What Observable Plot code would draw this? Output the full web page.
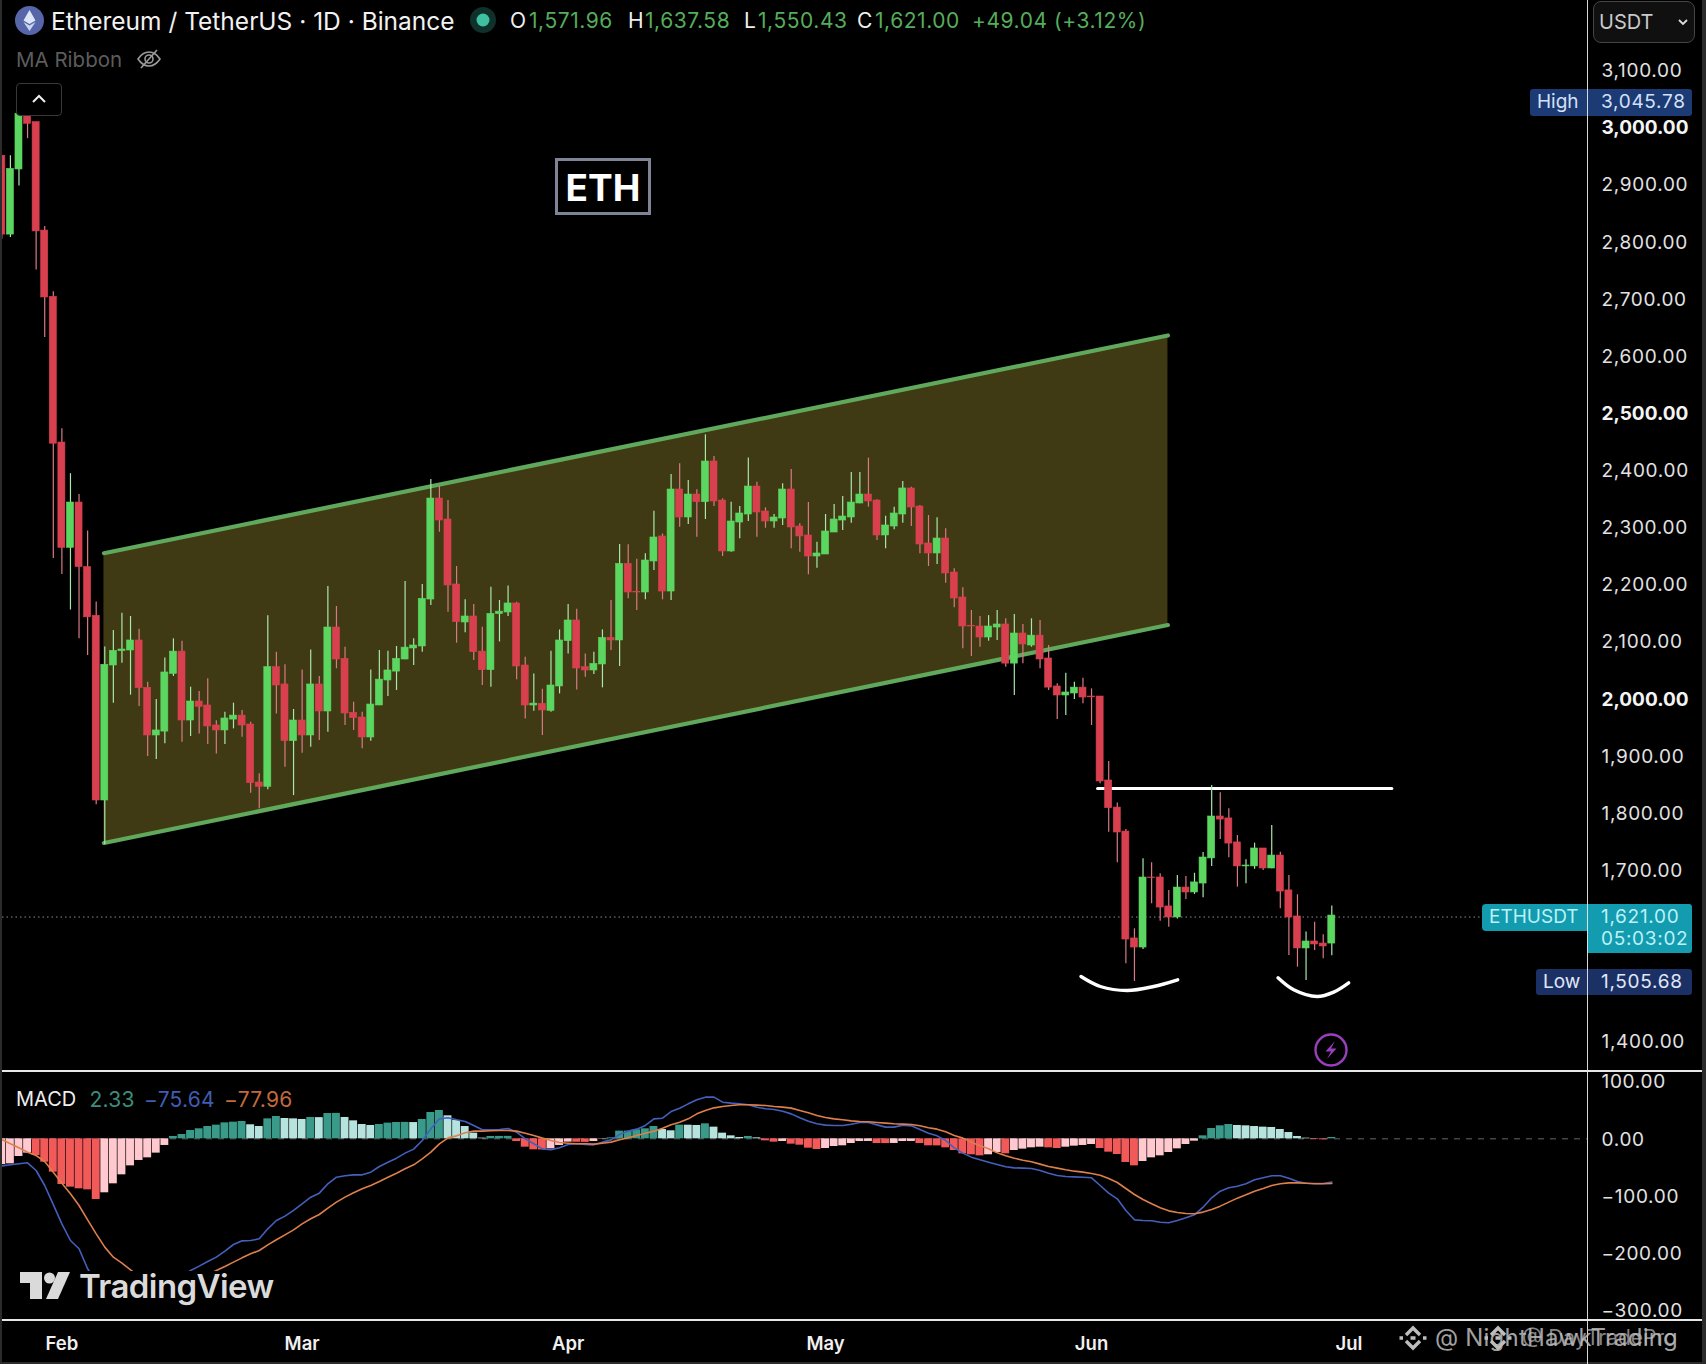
<!DOCTYPE html>
<html><head><meta charset="utf-8">
<script src="https://cdn.jsdelivr.net/npm/d3@7"></script>
<script src="https://cdn.jsdelivr.net/npm/@observablehq/plot@0.6"></script>
<style>
html,body{margin:0;padding:0;background:#2b2b2b;}
#page{position:relative;width:1706px;height:1364px;overflow:hidden;font-family:Inter,sans-serif;background:#000;}
#page svg{display:block;}
.abs{position:absolute;white-space:nowrap;}
.ohlc{font-size:21px;line-height:24px;top:9px;letter-spacing:.55px;}
.tag{position:absolute;}
.tagtxt{position:absolute;font-size:19px;line-height:24px;white-space:nowrap;}
.num{letter-spacing:.7px;}
</style></head><body>
<div id="page"></div>
<script>
// day index 0 is 6 Feb; one candle per day
const firstDay = -12;
const opens = [2951,2813,2927,3022.7,3009.8,2820,2704,2449,2264.6,2344,2231,2145.7,1822.4,2058.7,2083.8,2085,2102.5,2019.6,1936.2,1943,2044,2083,1962.4,1995.7,1988.7,1953.7,1945,1964,1971,1955.4,1853.9,1846.3,2055.8,2025.5,1926.3,1962.4,1936.2,2025.5,1978.2,2125.2,2070.4,1975.9,1967.7,1932.7,1988.7,2032.5,2048,2069.2,2088.5,2092,2174.2,2351,2314.3,2200.5,2134,2144.5,2083,2050.5,2148.6,2151.5,2167.3,2058.7,1988.7,1991.6,1979.4,2022,2101.3,2137.5,2055.8,2050,2060.5,2107,2102.5,2236.7,2187.7,2186.5,2240.8,2284.6,2188.2,2366.8,2317.8,2358,2344.6,2415.8,2347.5,2258.3,2309,2323,2372,2328.3,2310.8,2316,2366.8,2302,2286.3,2249.5,2253,2291.5,2312.5,2317.8,2342.3,2358,2347.5,2286.3,2302,2323,2368.6,2337,2272.3,2254.8,2281,2221.5,2177.8,2128,2127,2107.7,2125.2,2130.5,2062,2114.7,2093.7,2111,2071,2022,2006.2,2009.7,2020,2004.4,2004.4,1857.4,1810,1768,1580.9,1565,1687.6,1687.6,1636.9,1617.6,1670,1661.4,1677,1721,1794.4,1791,1749,1707,1707,1738.4,1703.4,1726,1665,1619.4,1563.4,1575.6,1572,1571.96];
const closes = [2813,2928,3024.5,3007,2818.6,2703,2447,2264.6,2344,2231,2143,1822.4,2060,2084.4,2086.7,2102.5,2019,1936.2,1945,2046.5,2083,1962.4,1995.7,1986.4,1952,1945,1966,1971,1953.7,1852.7,1846.3,2055.8,2023.7,1926.3,1962.4,1936.2,2025.5,1978.2,2125.2,2069.2,1974.7,1966.5,1932.7,1990.4,2034,2050,2070.4,2090,2093.7,2175.4,2351,2312.5,2198.8,2134.6,2144.5,2082,2050.5,2149,2153,2167.3,2057,1988.7,1992,1980,2023.7,2102.5,2137.5,2053.5,2050,2061.6,2107,2102.5,2236.7,2186.5,2186.5,2242.5,2282.8,2188.2,2366.8,2317.8,2358,2344.6,2415.8,2345.8,2258.3,2310.8,2324.8,2372,2326.5,2310.8,2317.8,2366.8,2300.3,2284.6,2249.5,2254.8,2293.3,2314.3,2319.5,2344,2358,2345.8,2286.3,2303.8,2324.8,2368.6,2335.3,2270.5,2254.8,2281,2219.8,2176,2127,2127,2107.7,2127,2130.5,2062,2114.7,2095.5,2111,2069.2,2020,2006.2,2011.5,2020,2002.7,2003,1855.7,1809,1766.4,1579,1565,1687.6,1686.5,1635,1617.6,1670,1661.4,1679,1722.6,1794.4,1789,1747,1707,1708.6,1738.4,1703.4,1726,1663,1617.6,1563.4,1575.6,1570.4,1566.9,1621];
const highs = [2951,2951,3033,3045.78,3009.8,2827,2712.8,2473,2394.5,2358,2294,2170,2091,2120,2150.3,2144.5,2122.3,2029.5,1999,2072,2105.4,2101.3,2020.8,2013,2035.4,1962,1977,1992.8,1980,1959.5,1869,2146,2082,2059.9,1981.7,2051,2086,2039.5,2197,2162,2090.8,1994.5,1977,2051,2085,2083.8,2092,2205.8,2105.4,2200.5,2384.3,2372,2347.5,2232,2174,2165.5,2125.8,2195.8,2172.5,2198,2169.6,2073.3,2044,2017.3,2083.8,2121,2165.5,2157.3,2079,2082,2121,2172.5,2270.5,2270,2244.8,2254.2,2328.9,2289,2393,2411.7,2382.6,2366.2,2462.5,2424.6,2350.5,2344.6,2337,2422,2379.6,2334.7,2323,2376.7,2401.8,2306.7,2344,2274.6,2323,2340.5,2354.6,2396.6,2396.6,2421.7,2349,2320,2335.9,2380.8,2370.9,2338.8,2321.3,2317.2,2298,2228,2194.7,2155,2144.5,2146,2155,2140.4,2148,2130.5,2140.4,2137.5,2093.7,2026.6,2045.3,2029.5,2036.5,2017.8,2004.4,1890.7,1817.8,1771.7,1597.8,1720.3,1713.3,1694,1665,1691,1689.4,1695,1731.4,1848.7,1835.8,1808,1761,1718.6,1747.7,1738.4,1778.6,1732,1691,1657.3,1592,1609.4,1587.3,1637.58];
const lows = [2805,2808,2898,2981,2751,2633,2246,2218,2155.8,2105.5,2076,1814.8,1745,1992.8,2062.8,2006.8,1987,1899.4,1894.2,1921.6,2039.5,1924.5,1934.4,1939,1920.4,1904,1920.4,1947.8,1933.3,1835,1807.8,1841,1974,1880.8,1831,1905,1915.8,1927.4,1942,2053,1953.7,1945,1912.8,1926.3,1988.7,2004.4,2015,2068.6,2058.7,2082,2163.7,2292,2152,2097.8,2116,2067.5,2023.7,2020.8,2100,2144.5,2033.6,1965,1978.8,1936,1977,2009,2079,2016,2038.3,2043,2019.6,2085,2057,2175.4,2155,2173.7,2225,2173.7,2172.5,2300.9,2305.5,2283.4,2314.3,2337,2249.5,2257,2280.4,2310.8,2283.4,2299,2299,2303.8,2263,2257,2217.4,2229,2253,2292,2295,2307.9,2341.7,2335.9,2277.5,2263,2296.2,2307.9,2302,2254.2,2232,2235.5,2202.8,2159.7,2087.9,2074.5,2090.8,2101.3,2102.5,2055.8,2006.2,2061.6,2090.8,2053,2015,1964,1971,1999,1991.6,1953.7,1851.6,1767,1713.3,1536.5,1505.68,1561.6,1641.5,1611,1600.7,1615,1649,1658,1652,1707,1754,1722,1670.7,1676.5,1702,1700,1703,1632.8,1551,1530.7,1507.3,1559.8,1545.3,1550.43];

const histogram = [-45,-43.7,-30.9,-25,-29.1,-40.8,-58.2,-79.8,-84.4,-87.3,-89.1,-106,-94.3,-78.6,-62.9,-47.2,-37.8,-33.2,-25,-11.6,4.1,7.6,14.6,17.5,21.5,23.9,27.9,29.1,30.3,24.5,21.5,34.9,39,35.5,34.9,33.8,37.3,37,44.2,44.4,37.3,31.4,25,23.3,25,27.4,28.5,28.7,28.4,33.8,46,49.5,40.2,32,21.5,9.9,1.2,4.1,4.2,4.3,-4.7,-14.6,-19.2,-19.4,-17.5,-11.6,-5.8,-6,-6.2,-4.7,-0.6,1.7,13.4,13.5,15.7,17.5,21.5,16.3,14,23.9,23.8,23.3,26.2,20.4,9.9,5.2,2.3,4.1,1.7,-3.5,-5.8,-4.7,-9.3,-11.1,-16.3,-18.6,-16.9,-13.4,-12.2,-8.2,-4.7,-4.6,-8.2,-8.3,-8.1,-4.7,-4.6,-8.2,-12.2,-12.3,-15.7,-20.4,-26.2,-27.9,-29.7,-27.9,-23.9,-26.2,-20.4,-18,-15.7,-14.6,-15.7,-16.9,-14.6,-12.8,-11.6,-9.9,-16.9,-23.3,-27.4,-41.3,-47.2,-39.6,-33.2,-29.7,-23.9,-17.5,-9.9,-4.1,5.2,18,22.7,25,23.3,22.7,21.5,20.4,19.8,16.3,11,4.1,1.2,-1.2,-1.7,2.33];
const macdLine = [-47.2,-45.4,-43.5,-41.9,-55.3,-81.5,-115,-148.5,-177.6,-192,-227,-250,-270.7,-282,-288,-291,-288,-282.4,-273.7,-265,-252,-240.5,-230,-222.4,-214.3,-206.7,-196.2,-184.6,-178.2,-177.6,-174.7,-157.2,-142.7,-135,-125,-113.5,-101.9,-94.9,-78.6,-67,-64.6,-62.9,-62.9,-58.2,-48.3,-40.8,-33.8,-25,-18,-2.9,17.4,34.9,36.7,33.2,30.3,23.3,15.7,15.7,16.3,18,11.6,0,-8.7,-17.5,-19.2,-15.7,-9.9,-8.7,-9.9,-10.5,-5.8,-1.8,7.6,13.4,16.9,23.3,34.9,36,47.7,53.5,61.1,68.1,72.8,72.8,64,62.3,61.1,59.4,55.3,52.4,51.2,48.3,43.6,36.7,30.8,26.2,23.9,23.3,23.3,25.6,28.5,28.5,24.4,20.4,20.4,23.9,22.7,16.3,9.9,5.2,-2.9,-15.7,-25,-32,-36.7,-40.8,-44.8,-48.9,-50.7,-51.2,-51.8,-55.3,-60,-64,-65.8,-66.4,-67,-68.1,-81.5,-94.9,-104.8,-125.2,-141.5,-142.7,-143.2,-145.6,-146.7,-142.7,-138,-132.8,-119.4,-103,-91.4,-85.6,-82.7,-78.6,-71.6,-68.1,-64.6,-64.6,-68.7,-74.5,-77.5,-78,-78,-75.64];
const signalLine = [-1.2,-8.7,-15.7,-23.3,-29.1,-39.6,-58.2,-77.5,-96.1,-116.5,-141.5,-166,-189.2,-206.7,-217.2,-228.8,-240.5,-250.4,-258,-263.8,-266,-262,-254.4,-244.5,-237.6,-230,-223,-215.4,-207.9,-200.9,-195,-185.2,-176.4,-167.7,-159,-148.5,-139.7,-132.2,-121.1,-110.6,-101.9,-94.3,-87.3,-81.5,-74.5,-67,-60,-52.4,-45.4,-35,-23.3,-8.7,1.7,5.2,10.5,13.4,13.4,14,14.6,14.6,13.4,9.9,5.8,1.2,-2.9,-6.4,-7.6,-8.7,-8.7,-9.3,-7.6,-5.8,-1.7,1.7,5.8,9.9,13.4,18.6,24.4,29.1,34.9,43.6,49.5,54.1,56.5,58.2,59.4,59.4,58.8,58.2,56.5,55.3,53.6,49.5,45.4,40.8,37.3,34.9,33.2,31.4,30.3,29.7,28.5,27.4,26.2,25.6,25,22.7,19.2,16.9,12.2,5.8,1.2,-5.8,-12.2,-17.5,-24.5,-29.7,-33.8,-37.3,-40.2,-44.2,-48.3,-51.2,-54.1,-56.5,-58.2,-60.6,-63.5,-69.3,-76.3,-86.8,-97.2,-106,-113.5,-120.5,-125.8,-128.7,-130.4,-131,-128,-123.4,-117.6,-110.6,-103.6,-97.8,-91.4,-86.8,-81.5,-78.6,-76.9,-76.9,-77.5,-78.6,-78.6,-77.96];

const channelDays = [-0.1, 123.9];
const channelUpper = [2255.3, 2636.4];
const channelLower = [1748, 2129.5];
const necklineDays = [115.7, 150];
const necklinePrice = [1843.4, 1843.4];
const leftArcDays = [113.77,116.03,119.14,122.24,125.04];
const leftArcPrice = [1514.3,1496.8,1489.8,1496.8,1508.5];
const rightArcDays = [136.73,138.56,141.28,143.22,144.97];
const rightArcPrice = [1512,1491,1479.3,1487,1503.2];

const lastPrice = 1621;
const highPrice = 3045.78;
const lowPrice = 1505.68;
const priceTicks = [3100,2900,2800,2700,2600,2400,2300,2200,2100,1900,1800,1700,1400];
const boldPriceTicks = [3000,2500,2000];
const macdTicks = [100,0,-100,-200,-300];
const monthTicks = [-5,23,54,84,115,145];
const monthLabels = ["Feb","Mar","Apr","May","Jun","Jul"];
const ohlcHeader = [["O","1,571.96"],["H","1,637.58"],["L","1,550.43"],["C","1,621.00"]];
const ohlcChange = "+49.04 (+3.12%)";
const macdLegend = ["2.33","−75.64","−77.96"];
const watermarks = ["@ NightHawkTrading","@ DayTradePro"];

const candles = opens.map((o,k)=>({i:firstDay+k,o,c:closes[k],h:highs[k],l:lows[k]}));
const bars = histogram.map((v,k)=>{
  const prev = k?histogram[k-1]:v-1;
  return {i:firstDay+k,v,tone:v>=0?(v>=prev?"upStrong":"upFaint"):(v<prev?"downStrong":"downFaint")};
});
const seriesPts = a=>a.map((v,k)=>({i:firstDay+k,v}));
const zip = (xs,ys)=>xs.map((x,k)=>({x,y:ys[k]}));
const channel = channelDays.map((x,k)=>({x,u:channelUpper[k],l:channelLower[k]}));

const UP="#5BD660",DOWN="#D9404F",FONT="Inter, sans-serif";
const xDomain=[-11.92,172.8];
const money=d3.format(",.2f");

const price = Plot.plot({
  width:1706,height:1071,marginLeft:2,marginRight:119,marginTop:0,marginBottom:0,
  style:{background:"#000",fontFamily:FONT,color:"#e6e6e6"},
  x:{type:"linear",domain:xDomain,axis:null},
  y:{type:"linear",domain:[1348,3222.8],axis:null},
  marks:[
    Plot.areaY(channel,{x:"x",y1:"l",y2:"u",fill:"#3F3A13"}),
    Plot.line(channel,{x:"x",y:"u",stroke:"#5FA85C",strokeWidth:4.2,strokeLinecap:"round"}),
    Plot.line(channel,{x:"x",y:"l",stroke:"#5FA85C",strokeWidth:4.2,strokeLinecap:"round"}),
    Plot.ruleY([lastPrice],{x1:xDomain[0],x2:(1482-2)/(1585)*(xDomain[1]-xDomain[0])+xDomain[0],dy:1.5,stroke:"#8a8a8a",strokeWidth:1,strokeDasharray:"1.5,3"}),
    Plot.line(zip(necklineDays,necklinePrice),{x:"x",y:"y",stroke:"#fff",strokeWidth:3}),
    Plot.line(zip(leftArcDays,leftArcPrice),{x:"x",y:"y",stroke:"#fff",strokeWidth:3.4,curve:"catmull-rom",strokeLinecap:"round"}),
    Plot.line(zip(rightArcDays,rightArcPrice),{x:"x",y:"y",stroke:"#fff",strokeWidth:3.4,curve:"catmull-rom",strokeLinecap:"round"}),
    Plot.ruleX(candles,{x:"i",y1:"l",y2:"h",stroke:d=>d.c>=d.o?"#A9E8A6":"#D87A84",strokeWidth:1.2,clip:true}),
    Plot.rect(candles,{x1:d=>d.i-0.41,x2:d=>d.i+0.41,y1:"o",y2:"c",fill:d=>d.c>=d.o?UP:DOWN,stroke:d=>d.c>=d.o?UP:DOWN,strokeWidth:0.6,clip:true}),
    Plot.axisY(priceTicks,{anchor:"right",tickSize:0,tickPadding:14,dy:0.4,tickFormat:money,fontSize:19,fill:"#e2e2e2",label:null,fontVariant:"normal"}),
    Plot.axisY(boldPriceTicks,{anchor:"right",tickSize:0,tickPadding:14,dy:0.4,tickFormat:money,fontSize:19,fontWeight:700,fill:"#f4f4f4",label:null,fontVariant:"normal"})
  ]
});

const macd = Plot.plot({
  width:1706,height:293,marginLeft:2,marginRight:119,marginTop:0,marginBottom:45,
  style:{background:"#000",fontFamily:FONT,color:"#e6e6e6"},
  x:{type:"linear",domain:xDomain,axis:null},
  y:{type:"linear",domain:[-315.6,117.6],axis:null},
  color:{domain:["upStrong","upFaint","downStrong","downFaint"],range:["#3A9A8A","#B7E3DE","#F25A5A","#FFC9CF"]},
  marks:[
    Plot.ruleY([0],{stroke:"#666",strokeWidth:1,strokeDasharray:"6,6"}),
    Plot.rectY(bars,{x1:d=>d.i-0.46,x2:d=>d.i+0.46,y1:0,y2:"v",fill:"tone",clip:true}),
    Plot.line(seriesPts(macdLine),{x:"i",y:"v",stroke:"#4460BC",strokeWidth:1.6,clip:true}),
    Plot.line(seriesPts(signalLine),{x:"i",y:"v",stroke:"#DE7F4C",strokeWidth:1.6,clip:true}),
    Plot.axisY(macdTicks,{anchor:"right",tickSize:0,tickPadding:14,dy:0.6,tickFormat:d=>d3.format(".2f")(d).replace("-","−"),fontSize:19,fill:"#e2e2e2",label:null,fontVariant:"normal"}),
    Plot.axisX(monthTicks,{anchor:"bottom",tickSize:0,tickPadding:17,tickFormat:d=>monthLabels[monthTicks.indexOf(d)],fontSize:18.5,fontWeight:600,fill:"#f0f0f0",label:null})
  ]
});

const page=document.getElementById("page");
page.append(price,macd);
price.querySelectorAll('g[aria-label="y-axis tick label"]').forEach((g,n)=>{ if(n===0) g.style.letterSpacing=".7px"; });
macd.querySelectorAll('g[aria-label="y-axis tick label"]').forEach(g=>{ g.style.letterSpacing=".7px"; });
const yP=v=>price.scale("y").apply(v), xP=v=>price.scale("x").apply(v);

function add(html){const t=document.createElement("div");t.innerHTML=html;while(t.firstChild)page.append(t.firstChild);}

// frame
add(`<div class="abs" style="left:0;top:0;width:2px;height:1364px;background:#2b2b2b"></div>
<div class="abs" style="left:1702px;top:0;width:4px;height:1364px;background:#2b2b2b"></div>
<div class="abs" style="left:0;top:1362px;width:1706px;height:2px;background:#2b2b2b"></div>
<div class="abs" style="left:2px;top:1070px;width:1700px;height:2px;background:#e8e8e8"></div>
<div class="abs" style="left:2px;top:1319px;width:1700px;height:1.5px;background:#e8e8e8"></div>`);

// header
add(`<svg class="abs" style="left:14px;top:5px" width="31" height="31" viewBox="0 0 31 31"><circle cx="15.5" cy="15.5" r="14.5" fill="#5766A8"/><path d="M15.5 5L9.5 15.5L15.5 19L21.5 15.5Z" fill="#DDE6F7"/><path d="M15.5 20.5L9.5 17L15.5 26L21.5 17Z" fill="#C9D6F2"/></svg>
<div class="abs" style="left:51px;top:6px;font-size:24.5px;line-height:30px;color:#f2f2f2">Ethereum / TetherUS · 1D · Binance</div>
<svg class="abs" style="left:469px;top:6px" width="28" height="28"><circle cx="14" cy="14" r="13" fill="#10302B"/><circle cx="14" cy="14" r="6.5" fill="#3FC0A0"/></svg>`);
const ohlcX=[[510,529],[628,645],[744,758],[857,875]];
ohlcHeader.forEach(([k,v],n)=>add(`<div class="abs ohlc" style="left:${ohlcX[n][0]}px;color:#eee">${k}</div><div class="abs ohlc" style="left:${ohlcX[n][1]}px;color:#55AD5C">${v}</div>`));
add(`<div class="abs ohlc" style="left:972px;color:#55AD5C">${ohlcChange}</div>
<div class="abs" style="left:16px;top:47px;font-size:20.5px;line-height:26px;color:#5c5c5c">MA Ribbon</div>
<svg class="abs" style="left:136px;top:47px" width="26" height="24" viewBox="0 0 26 24" fill="none" stroke="#9a9a9a" stroke-width="1.6"><path d="M2 12C6 6 9 5 13 5S20 6 24 12C20 18 17 19 13 19S6 18 2 12Z"/><circle cx="13" cy="12" r="4"/><path d="M5 21L21 3"/></svg>
<div class="abs" style="left:16px;top:83px;width:44px;height:31px;border:1px solid #383838;border-radius:4px;background:#000"></div>
<svg class="abs" style="left:31px;top:93px" width="16" height="12" fill="none" stroke="#eee" stroke-width="2"><path d="M2 9L8 3L14 9"/></svg>
<div class="abs" style="left:555px;top:158px;width:90px;height:51px;border:3px solid #7F8396;font-size:37px;font-weight:700;line-height:54px;text-align:center;color:#fff">ETH</div>
<div class="abs" style="left:1593px;top:1px;width:100px;height:40px;border:1px solid #444;border-radius:8px;background:#101010"></div>
<div class="abs" style="left:1599px;top:10px;font-size:20px;line-height:24px;color:#c9c9c9">USDT</div>
<svg class="abs" style="left:1677px;top:18px" width="12" height="9" fill="none" stroke="#ddd" stroke-width="1.8"><path d="M2 2L6 6L10 2"/></svg>`);

// price tags
function tag(name,val,bg,nameX,col){
  const y=yP(val)+1;
  add(`<div class="tag" style="left:${nameX}px;top:${y-13}px;width:${1691.7-nameX}px;height:26.5px;background:${bg};border-radius:3px"></div>
  <div class="tagtxt" style="left:${nameX+7}px;top:${y-12}px;color:${col}">${name}</div>
  <div class="tagtxt num" style="left:1601px;top:${y-12}px;color:${col}">${money(val)}</div>`);
}
tag("High",highPrice,"#1C3A74",1530,"#D4E1F7");
tag("Low",lowPrice,"#1B3166",1536,"#E0E7F7");
const ly=yP(lastPrice)+1.5;
add(`<div class="tag" style="left:1482px;top:${ly-12.5}px;width:106px;height:26.5px;background:#139BAF;border-radius:4px 0 0 4px"></div>
<div class="tag" style="left:1587px;top:${ly-12.5}px;width:104.7px;height:48.5px;background:#139BAF;border-radius:0 3px 3px 0"></div>
<div class="abs tagtxt" style="left:1489px;top:${ly-12}px;color:#BDF1F6">ETHUSDT</div>
<div class="abs tagtxt num" style="left:1601px;top:${ly-12}px;color:#BDF1F6">1,621.00</div>
<div class="abs tagtxt num" style="left:1601px;top:${ly+10}px;color:#BDF1F6">05:03:02</div>`);
// vertical axis rule
add(`<div class="abs" style="left:1586.5px;top:0;width:1.2px;height:1364px;background:rgba(232,232,232,.92)"></div>`);

// lightning badge
add(`<svg class="abs" style="left:${xP(143)-17}px;top:1033px" width="34" height="34" viewBox="0 0 34 34" fill="none"><circle cx="17" cy="17" r="15.5" stroke="#9B3FBE" stroke-width="2.4"/><path d="M21 8L11.5 18.5H17L13 26L22.5 15.5H17Z" fill="#9B3FBE"/></svg>`);

// MACD legend
const legX=[89.5,144,224], legC=["#3C8C7C","#3F5DB4","#C4693D"];
add(`<div class="abs" style="left:16px;top:1086.5px;font-size:20px;line-height:25px;color:#eee">MACD</div>`);
macdLegend.forEach((t,n)=>add(`<div class="abs" style="left:${legX[n]}px;top:1086.5px;font-size:21px;line-height:25px;letter-spacing:.25px;color:${legC[n]}">${t}</div>`));

// TradingView mark on its own black backing
add(`<div class="abs" style="left:8px;top:1271px;width:280px;height:42px;background:#000"></div>
<svg class="abs" style="left:20px;top:1272px" width="52" height="28" viewBox="0 0 52 28" fill="#DADADA"><path d="M0 0H22V27H10V11H0Z"/><circle cx="29.5" cy="6" r="5.5"/><path d="M38 0H50L38 27H26Z"/></svg>
<div class="abs" style="left:79px;top:1265px;font-size:33px;line-height:42px;font-weight:600;color:#DADADA;letter-spacing:-0.6px">TradingView</div>`);

// overlapping watermarks at the bottom right
const binance=(x)=>`<svg class="abs" style="left:${x-15}px;top:1323px" width="30" height="30" viewBox="0 0 30 30" fill="none" stroke="#BDBDBD" stroke-width="3.4"><path d="M8 12L15 5L22 12"/><path d="M8 18L15 25L22 18"/><path d="M1.5 15H5M25 15H28.5M12.5 15H17.5"/></svg>`;
add(binance(1413)+binance(1498));
add(`<div class="abs" style="left:1435px;top:1323px;font-size:24px;line-height:30px;color:#BDBDBD;opacity:.85;letter-spacing:.2px">${watermarks[0]}</div>
<div class="abs" style="left:1522px;top:1323px;font-size:21px;line-height:30px;color:#BDBDBD;opacity:.7">${watermarks[1]}</div>`);
</script>
</body></html>
